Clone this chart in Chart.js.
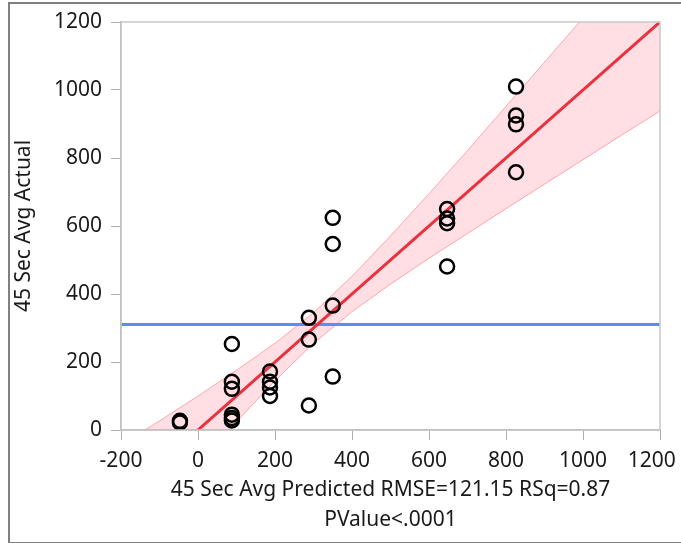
<!DOCTYPE html>
<html>
<head>
<meta charset="utf-8">
<script src="https://cdn.jsdelivr.net/npm/chart.js@4.4.1/dist/chart.umd.min.js"></script>
<style>
  body { margin: 0; background: #fff; }
  #wrap { position: relative; width: 681px; height: 543px; overflow: hidden; }
  #frame { position: absolute; left: 8px; top: 2px; width: 673px; height: 538px; border: 2px solid #808080; border-right: none; pointer-events: none; }
</style>
</head>
<body>
<div id="wrap">
  <canvas id="chart" width="681" height="543"></canvas>
  <div id="frame"></div>
</div>
<script>
// points (predicted, actual)
const predX = [-47, -47, 88, 88, 88, 88, 88, 88, 187, 187, 187, 187, 288, 288, 288, 350, 350, 350, 350, 647, 647, 647, 647, 826, 826, 826, 826];
const actualY = [27, 22, 253, 142, 121, 45, 35, 28, 172, 142, 125, 100, 330, 266, 72, 624, 547, 366, 157, 650, 622, 608, 481, 1010, 925, 899, 758];

// fit line and mean line
const fitX = [-200, 1200];
const fitY = [-200, 1200];
const meanY = 310;

// confidence band edges read at these x values
const bandX = [-200, -100, 0, 100, 200, 300, 400, 500, 600, 700, 800, 900, 1000, 1100, 1200];
const bandUpper = [-45, 27, 100, 176, 255, 345, 452, 571, 695, 822, 952, 1082, 1212, 1340, 1468];
const bandLower = [-355, -227, -100, 24, 145, 255, 348, 429, 505, 578, 651, 723, 795, 867, 938];

const xTicks = [-200, 0, 200, 400, 600, 800, 1000, 1200];
const yTicks = [0, 200, 400, 600, 800, 1000, 1200];

const xTitle = ["45 Sec Avg Predicted RMSE=121.15 RSq=0.87", "PValue<.0001"];
const yTitle = "45 Sec Avg Actual";

const fontFam = "'Noto Sans', 'Open Sans', sans-serif";
const textCol = "#1a1a1a";

function pairs(xs, ys) {
  return xs.map((x, i) => ({ x: x, y: ys[i] }));
}

// gray box round the plot area
const boxPlugin = {
  id: "box",
  afterDraw(chart) {
    const a = chart.chartArea;
    const ctx = chart.ctx;
    ctx.save();
    ctx.strokeStyle = "#c8c8c8";
    ctx.lineWidth = 1.5;
    ctx.strokeRect(a.left, a.top, a.right - a.left, a.bottom - a.top);
    ctx.restore();
  }
};

const ctx = document.getElementById("chart");
new Chart(ctx, {
  type: "scatter",
  data: {
    datasets: [
      {
        type: "line",
        data: pairs(bandX, bandUpper),
        borderColor: "rgba(255,120,130,0.6)",
        borderWidth: 1,
        backgroundColor: "rgba(255,80,100,0.18)",
        pointRadius: 0,
        fill: "+1",
        order: 4
      },
      {
        type: "line",
        data: pairs(bandX, bandLower),
        borderColor: "rgba(255,120,130,0.6)",
        borderWidth: 1,
        pointRadius: 0,
        fill: false,
        order: 5
      },
      {
        type: "line",
        data: pairs(fitX, fitY),
        borderColor: "#e8323f",
        borderWidth: 3,
        pointRadius: 0,
        fill: false,
        order: 1
      },
      {
        type: "line",
        data: [{ x: -200, y: meanY }, { x: 1200, y: meanY }],
        borderColor: "#5b8ef5",
        borderWidth: 3,
        pointRadius: 0,
        fill: false,
        order: 2
      },
      {
        data: pairs(predX, actualY),
        pointStyle: "circle",
        pointRadius: 7,
        pointBorderWidth: 2.5,
        borderColor: "#000",
        backgroundColor: "rgba(0,0,0,0)",
        order: 0
      }
    ]
  },
  options: {
    responsive: false,
    animation: false,
    layout: { padding: { left: 0, right: 21, top: 22, bottom: 8 } },
    plugins: { legend: { display: false }, tooltip: { enabled: false } },
    scales: {
      x: {
        type: "linear",
        min: -200,
        max: 1200,
        afterBuildTicks: (s) => { s.ticks = xTicks.map(v => ({ value: v })); },
        afterFit: (s) => { s.height = 105; s.paddingRight = 0; s.paddingLeft = 0; },
        grid: { drawOnChartArea: false, drawTicks: true, tickLength: 10, color: "#b0b0b0" },
        border: { display: true, color: "#b0b0b0", width: 1.5 },
        // last label pushed a little left so it fits, like the original
        ticks: { color: textCol, font: { family: fontFam, size: 21 }, padding: 8, maxRotation: 0,
          callback: (v) => v === 1200 ? "1200   " : String(v) },
        title: { display: true, text: xTitle, color: textCol, font: { family: fontFam, size: 21, lineHeight: 1.43 }, padding: { top: 0, bottom: 0 } }
      },
      y: {
        type: "linear",
        min: 0,
        max: 1200,
        afterBuildTicks: (s) => { s.ticks = yTicks.map(v => ({ value: v })); },
        afterFit: (s) => { s.width = 121; s.paddingTop = 0; s.paddingBottom = 0; },
        grid: { drawOnChartArea: false, drawTicks: true, tickLength: 10, color: "#b0b0b0" },
        border: { display: true, color: "#b0b0b0", width: 1.5 },
        ticks: { color: textCol, font: { family: fontFam, size: 21 }, padding: 9, callback: (v) => String(v) },
        title: { display: true, text: yTitle, color: textCol, font: { family: fontFam, size: 21 }, padding: { top: 11, bottom: 0 } }
      }
    }
  },
  plugins: [boxPlugin]
});
</script>
</body>
</html>
